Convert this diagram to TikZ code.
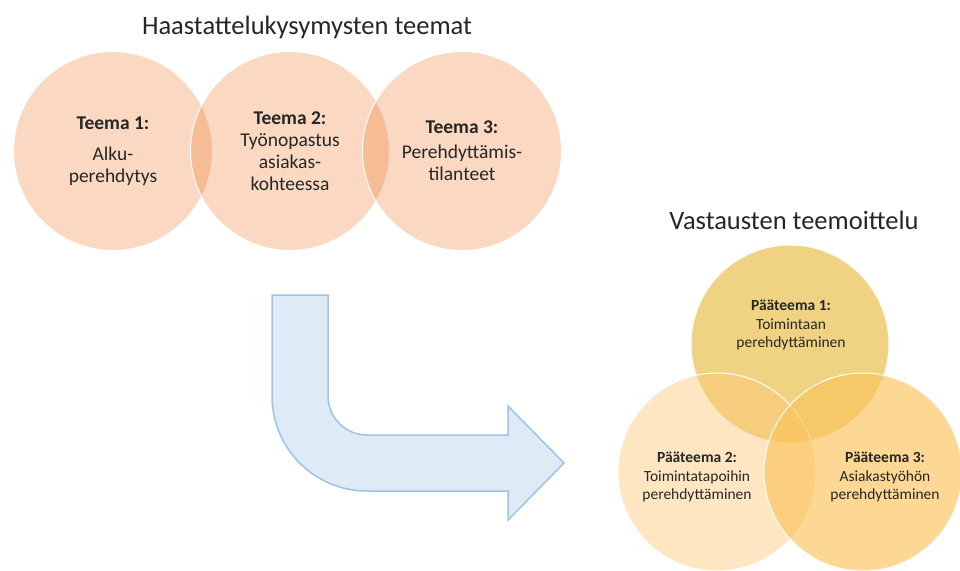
\documentclass[tikz,border=0pt]{standalone}
\usepackage{fontspec}
\setmainfont{Carlito}

\begin{document}
\begin{tikzpicture}[x=1pt,y=-1pt,
   teema/.style={circle, minimum size=199pt, inner sep=0pt, draw=white, line width=1pt,
                 fill=opeach, fill opacity=0.3, text opacity=1, align=center, text=otext,
                 font=\fontsize{19.5}{22}\selectfont},
   paa/.style={circle, minimum size=198pt, inner sep=0pt, draw=white, line width=1pt},
   paateksti/.style={align=center, text=otext, font=\fontsize{15.5}{18.5}\selectfont},
   otsikko/.style={text=otext, font=\fontsize{26.5}{32}\selectfont}]
\definecolor{otext}{RGB}{38,38,38}
\definecolor{opeach}{RGB}{237,125,49}
\definecolor{ogoldA}{RGB}{225,175,30}
\definecolor{ogoldB}{RGB}{255,200,120}
\definecolor{ogoldC}{RGB}{250,195,90}
\definecolor{oblue}{RGB}{222,235,247}
\definecolor{obluedraw}{RGB}{157,195,230}

   \useasboundingbox (0,0) rectangle (960,570);

   %%%% Haastattelukysymysten teemat
   \node[otsikko] (otsikkoA) at (307,27) {Haastattelukysymysten teemat};
   \node[teema] (teemaA) at (113,151) {\textbf{Teema 1:}\\[9pt]Alku-\\perehdytys};
   \node[teema] (teemaB) at (290,151) {\textbf{Teema 2:}\\Työnopastus\\asiakas-\\kohteessa};
   \node[teema] (teemaC) at (462,151) {\textbf{Teema 3:}\\[3pt]Perehdyttämis-\\tilanteet};

   %%%% bent arrow
   \draw[line width=1.5pt, draw=obluedraw, fill=oblue, line join=miter]
      (272,295) -- (328,295) -- (328,396) arc[start angle=180, end angle=90, radius=39]
      -- (508,435) -- (508,406) -- (564,463) -- (508,520) -- (508,491) -- (367,491)
      arc[start angle=90, end angle=180, radius=95] -- cycle;

   %%%% Vastausten teemoittelu
   \node[otsikko] (otsikkoB) at (794,220) {Vastausten teemoittelu};
   \node[paa, fill=ogoldA, fill opacity=0.55] (paaA) at (790,344) {};
   \node[paa, fill=ogoldB, fill opacity=0.45] (paaB) at (717,472) {};
   \node[paa, fill=ogoldC, fill opacity=0.65] (paaC) at (863,472) {};

   \node[paateksti] (tekstiA) at (791,325) {\textbf{Pääteema 1:}\\Toimintaan\\perehdyttäminen};
   \node[paateksti] (tekstiB) at (697,477) {\textbf{Pääteema 2:}\\Toimintatapoihin\\perehdyttäminen};
   \node[paateksti] (tekstiC) at (885,477) {\textbf{Pääteema 3:}\\Asiakastyöhön\\perehdyttäminen};

\end{tikzpicture}
\end{document}
